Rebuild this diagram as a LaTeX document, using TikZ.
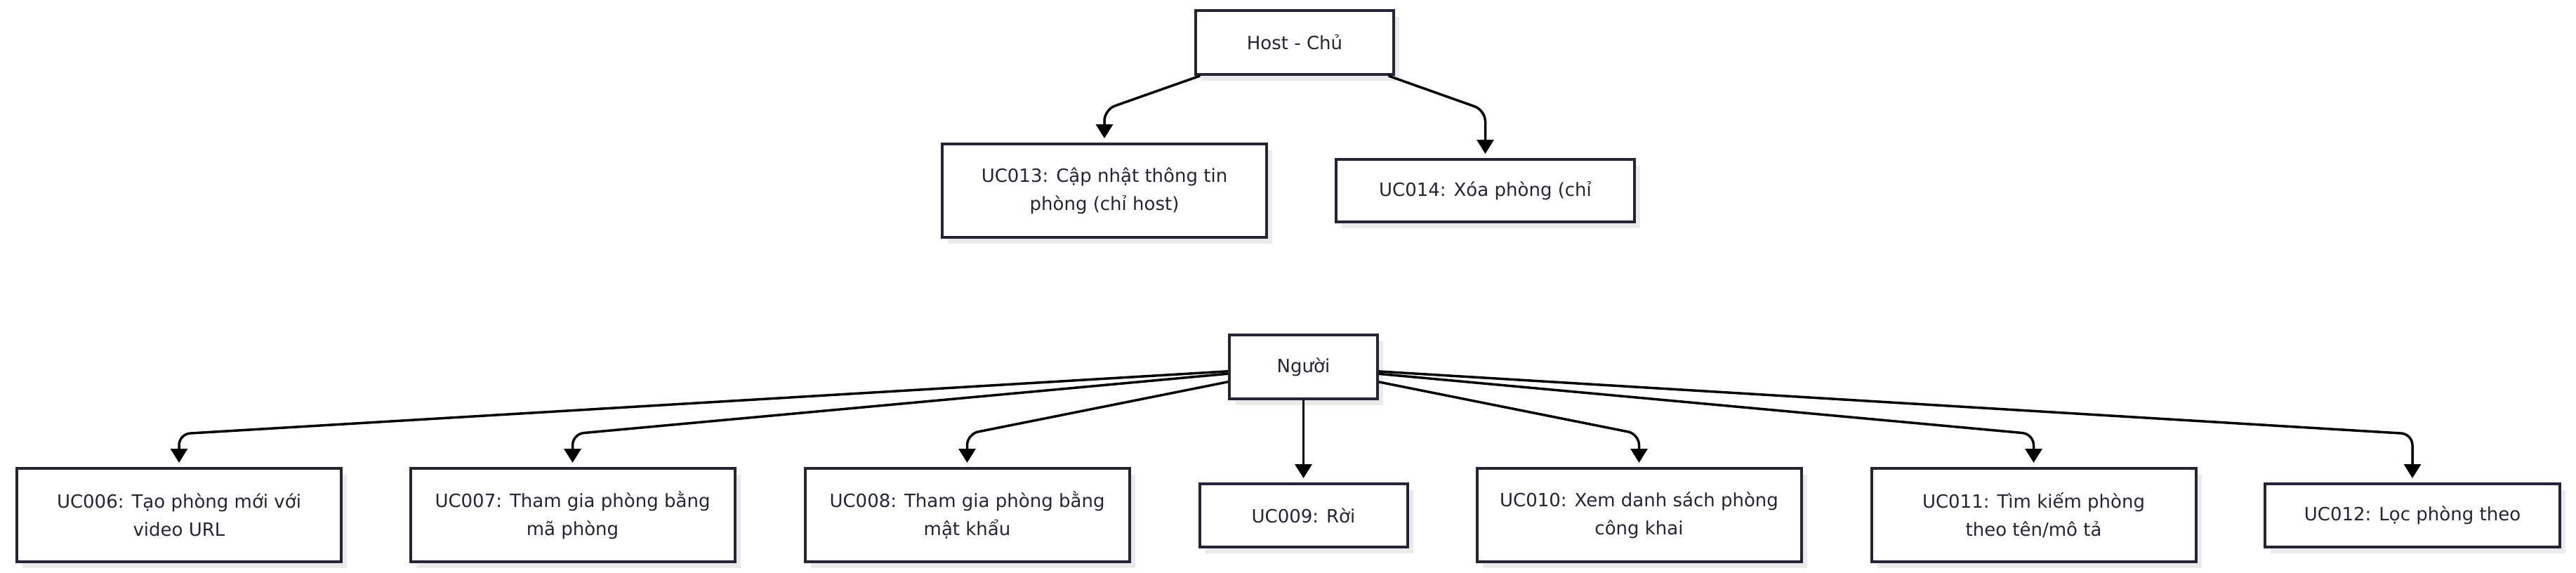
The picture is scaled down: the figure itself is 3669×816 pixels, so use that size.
\documentclass[tikz,border=0pt]{standalone}
\usepackage{fontspec}
\setmainfont{DejaVu Sans}
\usetikzlibrary{arrows.meta,shadows}

\definecolor{ucline}{RGB}{36,36,54}
\definecolor{ucshadow}{RGB}{234,234,234}

\tikzset{
    ucbox/.style={
        draw=ucline, line width=4pt, fill=white, text=ucline,
        align=center, inner sep=0pt,
        font=\fontsize{26}{40}\selectfont,
        minimum width=462pt, minimum height=133pt,
        drop shadow={shadow xshift=8pt, shadow yshift=-9pt, fill=ucshadow, opacity=1}
    },
    conn/.style={
        line width=3.5pt, rounded corners=16pt,
        -{Triangle[width=24pt,length=20pt]}, shorten >=6pt
    }
}

\begin{document}
\begin{tikzpicture}[
            x=1pt,
            y=-1pt
        ]

        \useasboundingbox (0,0) rectangle (3669,816);

        % host
        \node[ucbox, minimum width=282pt, minimum height=91pt] (host) at (1844, 60.5) {Host - Chủ};
        \node[ucbox] (uc13) at (1573, 271.5) {UC013: Cập nhật thông tin\\phòng (chỉ host)};
        \node[ucbox, minimum width=425pt, minimum height=89pt] (uc14) at (2115.5, 271.5) {UC014: Xóa phòng (chỉ};

        % user
        \node[ucbox, minimum width=211pt, minimum height=91pt] (nguoi) at (1856.5, 522.5) {Người};
        \node[ucbox] (uc06) at (255, 733.5) {UC006: Tạo phòng mới với\\video URL};
        \node[ucbox] (uc07) at (815.5, 733.5) {UC007: Tham gia phòng bằng\\mã phòng};
        \node[ucbox] (uc08) at (1377.5, 733.5) {UC008: Tham gia phòng bằng\\mật khẩu};
        \node[ucbox, minimum width=296pt, minimum height=90pt] (uc09) at (1856.5, 734) {UC009: Rời};
        \node[ucbox] (uc10) at (2334.5, 733.5) {UC010: Xem danh sách phòng\\công khai};
        \node[ucbox] (uc11) at (2896.5, 733.5) {UC011: Tìm kiếm phòng\\theo tên/mô tả};
        \node[ucbox, minimum width=420pt, minimum height=90pt] (uc12) at (3436, 734) {UC012: Lọc phòng theo};

        % bends
        \coordinate (b13) at (1573, 156);
        \coordinate (b14) at (2115.5, 157);

        \coordinate (b06) at (255, 618);
        \coordinate (b07) at (815.5, 618);
        \coordinate (b08) at (1377.5, 618);
        \coordinate (b10) at (2334.5, 618);
        \coordinate (b11) at (2896.5, 618);
        \coordinate (b12) at (3436, 618);

        % arrows
        \draw[conn] (host) -- (b13) -- (uc13);
        \draw[conn] (host) -- (b14) -- (uc14);

        \draw[conn] (nguoi) -- (b06) -- (uc06);
        \draw[conn] (nguoi) -- (b07) -- (uc07);
        \draw[conn] (nguoi) -- (b08) -- (uc08);
        \draw[conn] (nguoi) -- (uc09);
        \draw[conn] (nguoi) -- (b10) -- (uc10);
        \draw[conn] (nguoi) -- (b11) -- (uc11);
        \draw[conn] (nguoi) -- (b12) -- (uc12);

        \end{tikzpicture}
\end{document}
